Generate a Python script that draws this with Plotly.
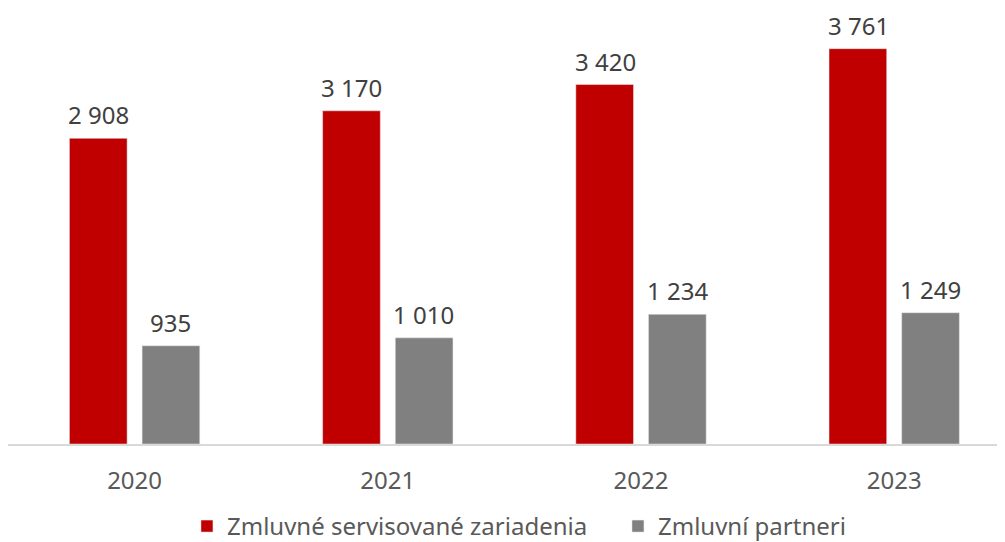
import plotly.graph_objects as go

years = ["2020", "2021", "2022", "2023"]
devices = [2908, 3170, 3420, 3761]
partners = [935, 1010, 1234, 1249]
device_labels = ["2 908", "3 170", "3 420", "3 761"]
partner_labels = ["935", "1 010", "1 234", "1 249"]

FONT = "Noto Sans"
SIZE = 24

fig = go.Figure()
fig.add_trace(go.Bar(x=years, y=devices, name="Zmluvné servisované zariadenia",
                     marker_color="#C00000", hoverinfo="skip"))
fig.add_trace(go.Bar(x=years, y=partners, name="Zmluvní partneri",
                     marker_color="#808080", hoverinfo="skip"))

# value labels above the bars (x given as category index)
for i, (v, lab) in enumerate(zip(devices, device_labels)):
    fig.add_annotation(x=i, y=v, text=lab, showarrow=False, yanchor="bottom", borderpad=0,
                       xshift=-36, yshift=6, font=dict(family=FONT, size=SIZE, color="#404040"))
for i, (v, lab) in enumerate(zip(partners, partner_labels)):
    fig.add_annotation(x=i, y=v, text=lab, showarrow=False, yanchor="bottom", borderpad=0,
                       xshift=36, yshift=6, font=dict(family=FONT, size=SIZE, color="#404040"))

# page body has an 8px margin, so the figure is a bit smaller than the window
fig.update_layout(
    width=997, height=534,
    margin=dict(l=0, r=0, t=2, b=98, autoexpand=False),
    plot_bgcolor="white", paper_bgcolor="white",
    barmode="group", bargap=0.426, bargroupgap=0.206,
    font=dict(family=FONT, size=SIZE, color="#595959"),
    showlegend=True,
    legend=dict(orientation="h", x=0.1795, xanchor="left", y=-0.19, yanchor="middle",
                entrywidth=386,
                font=dict(family=FONT, size=SIZE, color="#595959")),
)
fig.update_xaxes(type="category", range=[-0.5, 3.4376], showline=True, linecolor="#D9D9D9",
                 linewidth=1.5, ticks="outside", ticklen=14, tickcolor="rgba(0,0,0,0)",
                 tickfont=dict(family=FONT, size=SIZE, color="#595959"))
fig.update_yaxes(range=[0, 4129], showgrid=False, showticklabels=False, zeroline=False)

fig.write_html("out.html")
